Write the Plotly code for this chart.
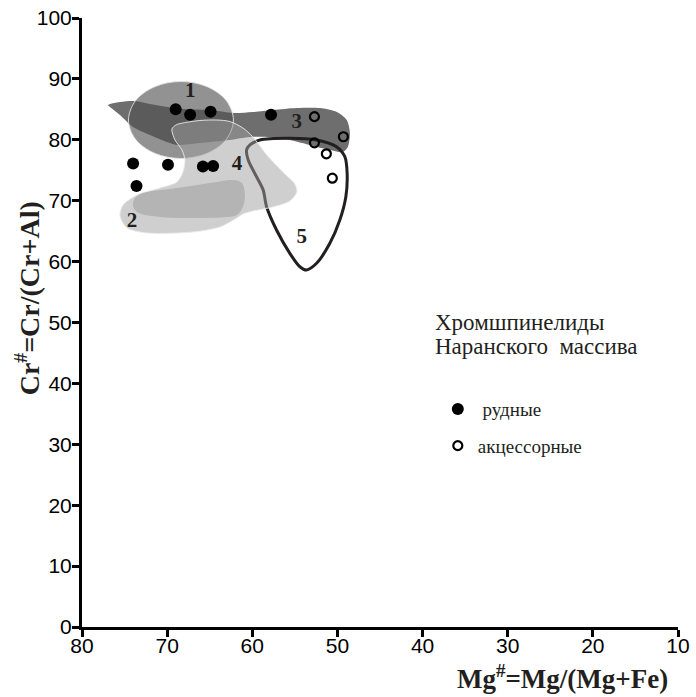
import plotly.graph_objects as go

# ---- data ----
ore_mg = [69.0, 67.3, 64.9, 57.8, 74.0, 69.9, 65.8, 64.6, 73.6]
ore_cr = [85.0, 84.1, 84.6, 84.1, 76.1, 75.9, 75.6, 75.7, 72.4]

acc_mg = [52.7, 49.3, 52.7, 51.3, 50.6]
acc_cr = [83.8, 80.5, 79.5, 77.7, 73.7]

# field 1 outline
f1_mg = [62.22, 63.04, 65.30, 68.38, 71.46, 73.72, 74.54, 73.72, 71.46, 68.38, 65.30, 63.04, 62.22]
f1_cr = [83.25, 86.41, 88.72, 89.57, 88.72, 86.41, 83.25, 80.09, 77.78, 76.93, 77.78, 80.09, 83.25]

# field 3 outline
f3_mg = [76.95, 75.54, 73.78, 72.02, 68.15, 64.98, 62.28, 59.93, 57.58, 54.77, 52.07, 50.07, 48.90,
         48.54, 48.78, 49.37, 50.89, 53.24, 55.59, 57.93, 60.28, 62.63, 66.15, 68.85, 70.02, 72.02,
         74.01, 75.54, 76.71, 76.95]
f3_cr = [85.71, 86.21, 86.37, 85.88, 85.06, 84.89, 84.40, 84.56, 84.89, 85.22, 85.22, 84.56, 83.25,
         81.12, 78.82, 78.00, 78.33, 79.15, 79.97, 80.46, 80.46, 79.97, 79.47, 79.15, 79.64, 80.79,
         82.10, 84.07, 85.39, 85.71]

# field 4 outline
f4_mg = [69.44, 68.97, 68.15, 66.15, 64.15, 62.63, 61.10, 59.93, 58.29, 56.41, 55.00, 54.77, 55.59,
         57.58, 59.93, 61.10, 61.81, 63.80, 66.97, 72.37, 74.72, 75.54, 75.19, 73.54, 70.85, 68.85,
         68.15, 67.91, 68.26, 69.08, 69.44]
f4_cr = [81.77, 82.43, 82.76, 83.17, 83.25, 83.00, 81.94, 80.46, 77.50, 74.71, 72.74, 71.43, 69.95,
         68.97, 68.31, 67.82, 67.16, 65.68, 64.86, 64.70, 65.52, 67.49, 69.29, 70.94, 72.09, 73.07,
         74.71, 76.68, 78.33, 79.97, 81.77]

# field 2 outline
f2_mg = [73.78, 72.84, 68.85, 64.98, 62.28, 61.22, 60.87, 61.10, 61.81, 62.98, 66.97, 70.85, 73.54, 74.01, 73.78]
f2_cr = [70.44, 71.26, 72.09, 72.91, 73.40, 72.91, 70.94, 68.97, 67.65, 67.32, 67.16, 67.32, 68.14, 69.29, 70.44]

# field 5 outline
f5_mg = [60.28, 59.11, 55.59, 52.45, 50.11, 49.13, 48.86, 49.01, 49.72, 50.89, 52.45, 53.63, 54.41,
         55.59, 57.15, 58.32, 58.72, 59.50, 60.48, 60.67, 60.28]
f5_cr = [79.15, 79.97, 80.25, 79.97, 78.87, 77.22, 74.50, 70.66, 66.83, 63.00, 59.72, 58.62, 59.16,
         61.36, 65.19, 69.01, 71.76, 73.94, 76.68, 78.33, 79.15]

field_labels = ["1", "2", "3", "4", "5"]
label_mg = [67.3, 74.13, 54.77, 61.8, 54.18]
label_cr = [87.85, 66.5, 82.76, 75.86, 63.87]

x_ticks = [80, 70, 60, 50, 40, 30, 20, 10]
y_ticks = [0, 10, 20, 30, 40, 50, 60, 70, 80, 90, 100]

title_line1 = "Хромшпинелиды"
title_line2 = "Наранского  массива"
ore_name = " рудные"
acc_name = "акцессорные"

DARK = "#231f20"
SERIF = "Liberation Serif, Times New Roman, serif"
SANS = "Liberation Sans, Arial, sans-serif"

fig = go.Figure()

# field 3 (dark band)
fig.add_trace(go.Scatter(x=f3_mg, y=f3_cr, mode="lines", line=dict(width=0, shape="spline", smoothing=0.8),
                         fill="toself", fillcolor="#6e6e6e", showlegend=False, hoverinfo="skip"))
# field 1
fig.add_trace(go.Scatter(x=f1_mg, y=f1_cr, mode="lines",
                         line=dict(width=1, color="rgba(225,225,225,0.9)", shape="spline", smoothing=1.0),
                         fill="toself", fillcolor="rgba(79,79,79,0.62)", showlegend=False, hoverinfo="skip"))
# field 5 outline
fig.add_trace(go.Scatter(x=f5_mg, y=f5_cr, mode="lines",
                         line=dict(width=3, color=DARK, shape="spline", smoothing=0.8),
                         showlegend=False, hoverinfo="skip"))
# field 4
fig.add_trace(go.Scatter(x=f4_mg, y=f4_cr, mode="lines",
                         line=dict(width=1, color="rgba(235,235,235,0.9)", shape="spline", smoothing=0.8),
                         fill="toself", fillcolor="rgba(160,160,160,0.5)", showlegend=False, hoverinfo="skip"))
# field 2
fig.add_trace(go.Scatter(x=f2_mg, y=f2_cr, mode="lines",
                         line=dict(width=0, shape="spline", smoothing=1.0),
                         fill="toself", fillcolor="#b4b4b4", showlegend=False, hoverinfo="skip"))

# field numbers
fig.add_trace(go.Scatter(x=label_mg, y=label_cr, mode="text", text=field_labels,
                         textfont=dict(family=SERIF, size=21, color=DARK),
                         texttemplate="<b>%{text}</b>", showlegend=False, hoverinfo="skip"))

# points
fig.add_trace(go.Scatter(x=ore_mg, y=ore_cr, mode="markers", name=ore_name, legendgroup="a",
                         marker=dict(symbol="circle", size=12, color="black")))
fig.add_trace(go.Scatter(x=acc_mg, y=acc_cr, mode="markers", name=acc_name, legendgroup="b",
                         marker=dict(symbol="circle-open", size=9, color="black", line=dict(width=2.2))))

fig.update_layout(
    width=696, height=697,
    margin=dict(l=82, r=18, t=18, b=70),
    paper_bgcolor="white", plot_bgcolor="white",
    xaxis=dict(range=[80, 10], tickvals=x_ticks, ticks="outside", ticklen=7, tickwidth=2.5,
               tickcolor="black", showline=True, linecolor="black", linewidth=3, showgrid=False,
               zeroline=False, automargin=False, ticklabeloverflow="allow", ticklabelstandoff=-9,
               tickfont=dict(family=SANS, size=21, color="black")),
    yaxis=dict(range=[0, 100], tickvals=y_ticks, ticks="outside", ticklen=7, tickwidth=2.5,
               tickcolor="black", showline=True, linecolor="black", linewidth=3, showgrid=False,
               zeroline=False, automargin=False, ticklabeloverflow="allow", ticklabelstandoff=-4,
               tickfont=dict(family=SANS, size=21, color="black")),
    showlegend=True,
    legend=dict(x=0.597, y=0.389, xanchor="left", yanchor="top", bgcolor="rgba(0,0,0,0)",
                font=dict(family=SERIF, size=19, color=DARK), tracegroupgap=9, itemwidth=30),
    annotations=[
        dict(text=title_line1, xref="paper", yref="paper", x=0.589, y=0.5008, xanchor="left",
             yanchor="middle", showarrow=False, align="left",
             font=dict(family=SERIF, size=23, color=DARK)),
        dict(text=title_line2, xref="paper", yref="paper", x=0.589, y=0.4598, xanchor="left",
             yanchor="middle", showarrow=False, align="left",
             font=dict(family=SERIF, size=23, color=DARK)),
        dict(text="<b>Mg<sup>#</sup>=Mg/(Mg+Fe)</b>", xref="paper", yref="paper", x=1, y=-0.082,
             xanchor="right", yanchor="middle", xshift=-8, showarrow=False,
             font=dict(family=SERIF, size=27, color=DARK)),
        dict(text="<b>Cr<sup>#</sup>=Cr/(Cr+Al)</b>", xref="paper", yref="paper", x=-0.092, y=0.54,
             xanchor="center", yanchor="middle", textangle=-90, showarrow=False,
             font=dict(family=SERIF, size=28, color=DARK)),
    ],
)

# remove the default page margin so the figure fills the window exactly
fig.write_html("out.html", config={"displayModeBar": False},
               post_script="document.body.style.margin='0';document.body.style.overflow='hidden';")
